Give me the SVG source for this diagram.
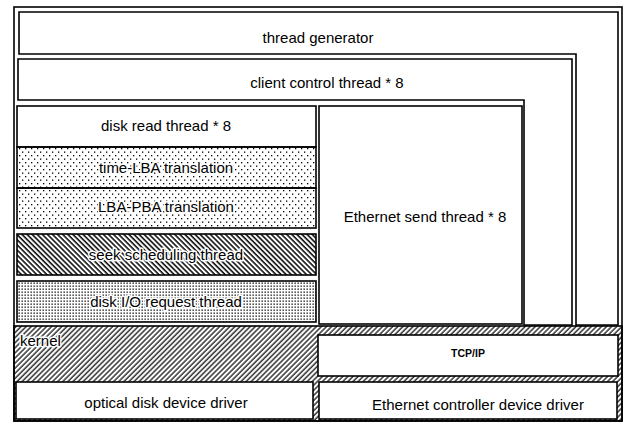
<svg xmlns="http://www.w3.org/2000/svg" width="624" height="423" viewBox="0 0 624 423">
  <defs>
    <!-- coarse staggered dots for the translation layers -->
    <pattern id="dots" width="6" height="7" patternUnits="userSpaceOnUse">
      <rect x="1" y="1" width="1.3" height="1.3" fill="#000"/>
      <rect x="4" y="4.5" width="1.3" height="1.3" fill="#000"/>
    </pattern>
    <!-- fine dots for the request thread -->
    <pattern id="fine" width="3" height="3" patternUnits="userSpaceOnUse">
      <rect x="0.5" y="0.5" width="1.3" height="1.3" fill="#000"/>
    </pattern>
    <!-- back-slash hatch -->
    <pattern id="hatchBack" width="3.6" height="10" patternUnits="userSpaceOnUse" patternTransform="rotate(-45)">
      <line x1="1" y1="0" x2="1" y2="10" stroke="#000" stroke-width="1.5"/>
    </pattern>
    <!-- forward-slash hatch -->
    <pattern id="hatchFwd" width="3.6" height="10" patternUnits="userSpaceOnUse" patternTransform="rotate(45)">
      <line x1="1" y1="0" x2="1" y2="10" stroke="#000" stroke-width="1.2"/>
    </pattern>
  </defs>
  <style>
    .box { fill: #fff; stroke: #000; stroke-width: 1.6; }
    .dots { fill: url(#dots); stroke: #000; stroke-width: 1.6; }
    .fine { fill: url(#fine); stroke: #000; stroke-width: 1.6; }
    .hb { fill: url(#hatchBack); stroke: #000; stroke-width: 1.6; }
    .hf { fill: url(#hatchFwd); stroke: #000; stroke-width: 1.6; }
    text { font-family: "Liberation Sans", Arial, sans-serif; font-size: 15px; fill: #000; text-anchor: middle; }
    .halo { paint-order: stroke; stroke: #fff; stroke-width: 3px; stroke-linejoin: round; }
    .small { font-size: 10.5px; font-weight: bold; }
  </style>

  <rect width="624" height="423" fill="#fff"/>

  <!-- outer frame -->
  <rect id="frame" x="14" y="7" width="608" height="414" class="box"/>

  <!-- kernel layer -->
  <g id="kernel">
    <rect x="14" y="326" width="608" height="95" class="hf"/>
    <text x="20" y="346" class="halo" style="text-anchor:start">kernel</text>
  </g>

  <g id="thread-generator">
    <path d="M19,12 H618 V325 H576 V54 H19 Z" class="box"/>
    <text x="318" y="43">thread generator</text>
  </g>

  <g id="client-control">
    <path d="M18,59 H572 V325 H524 V100 H18 Z" class="box"/>
    <text x="327" y="88">client control thread * 8</text>
  </g>

  <g id="disk-read">
    <rect x="17" y="106" width="299" height="41" class="box"/>
    <text x="166" y="131">disk read thread * 8</text>
  </g>

  <g id="time-lba">
    <rect x="17" y="147" width="299" height="41" class="dots"/>
    <text x="166" y="173" class="halo">time-LBA translation</text>
  </g>

  <g id="lba-pba">
    <rect x="17" y="188" width="299" height="40" class="dots"/>
    <text x="166" y="212" class="halo">LBA-PBA translation</text>
  </g>

  <g id="seek-scheduling">
    <rect x="17" y="234" width="299" height="41" class="hb"/>
    <text x="166" y="260" class="halo">seek scheduling thread</text>
  </g>

  <g id="disk-io-request">
    <rect x="17" y="281" width="299" height="41" class="fine"/>
    <text x="166" y="307" class="halo">disk I/O request thread</text>
  </g>

  <g id="ethernet-send">
    <rect x="319" y="106" width="203" height="218" class="box"/>
    <text x="425" y="222">Ethernet send thread * 8</text>
  </g>

  <g id="tcp-ip">
    <rect x="318" y="335" width="300" height="41" class="box"/>
    <text x="468" y="357" class="small">TCP/IP</text>
  </g>

  <g id="optical-driver">
    <rect x="16" y="382" width="297" height="37" class="box"/>
    <text x="166" y="408">optical disk device driver</text>
  </g>

  <g id="ethernet-driver">
    <rect x="319" y="382" width="298" height="37" class="box"/>
    <text x="478" y="410">Ethernet controller device driver</text>
  </g>

  <!-- no connectors: the layers are stacked by containment -->
  <g id="connectors"/>
</svg>
